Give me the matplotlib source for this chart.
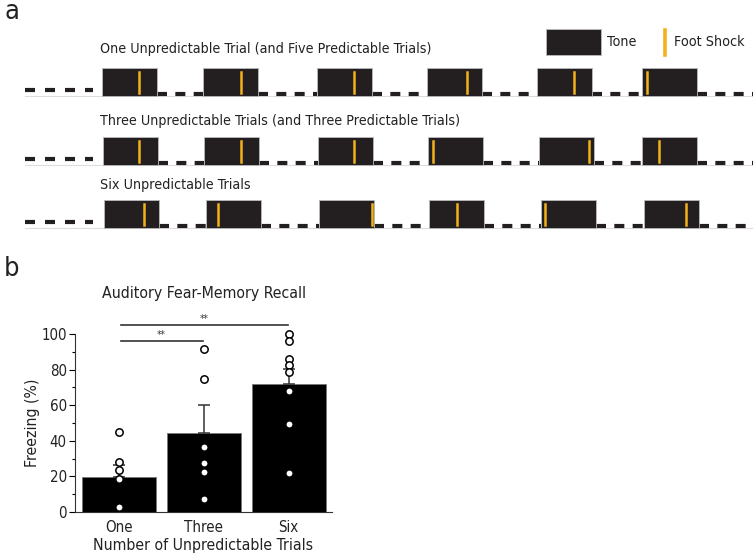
import numpy as np
import matplotlib
matplotlib.use("Agg")
import matplotlib.pyplot as plt
from matplotlib import font_manager as fm
from matplotlib.patches import Rectangle

# pick a condensed face if one is installed (the original uses a condensed sans)
entries = fm.fontManager.ttflist
names = {f.name for f in entries}
if "Liberation Sans Narrow" in names:
    plt.rcParams['font.family'] = ['Liberation Sans Narrow', 'DejaVu Sans']
    k = 1.2
elif any(f.name == "DejaVu Sans" and str(f.stretch) in ("condensed", "semi-condensed")
         for f in entries):
    plt.rcParams['font.family'] = ['DejaVu Sans']
    plt.rcParams['font.stretch'] = 'condensed'
    k = 1.08
else:
    plt.rcParams['font.family'] = ['DejaVu Sans']
    k = 0.96

# ---------- panel a: protocol schematic (timeline units = px) ----------
row_titles = [
    "One Unpredictable Trial (and Five Predictable Trials)",
    "Three Unpredictable Trials (and Three Predictable Trials)",
    "Six Unpredictable Trials",
]
tone_starts = [
    [102, 203, 317, 427, 537, 642],
    [103, 204, 318, 428, 539, 642],
    [104, 206, 319, 429, 541, 644],
]
shock_times = [
    [139, 241, 354, 467, 574, 647],
    [139, 241, 354, 433, 589, 659],
    [144, 218, 372, 457, 545, 686],
]
tone_len = 55

# ---------- panel b: freezing data ----------
groups = ["One", "Three", "Six"]
freeze_mean = [19.7, 44.5, 72.0]
freeze_sem = [6.6, 15.6, 8.5]
freeze_points = [
    [45.2, 28.0, 23.4, 18.5, 2.8],
    [91.6, 74.7, 36.5, 27.3, 22.6, 7.1],
    [100.0, 96.0, 85.8, 82.8, 78.6, 68.0, 49.4, 21.9],
]
sig_pairs = [(0, 2, 105), (0, 1, 96)]

tone_col = "#231f20"
shock_col = "#f2b21b"
txt_col = "#222222"

fig = plt.figure(figsize=(7.55, 5.58), dpi=100)

# schematic axes covers the whole figure, pixel-like units
ax = fig.add_axes([0, 0, 1, 1])
ax.set_xlim(0, 755)
ax.set_ylim(558, 0)
ax.axis("off")

ax.text(4, -1, "a", fontsize=18 * k, va="top", ha="left", color=txt_col)
ax.text(4, 256, "b", fontsize=18 * k, va="top", ha="left", color=txt_col)

row_bottoms = [96, 165, 228]
row_title_y = [49, 121, 185]
box_h = 28
for title, starts, shocks, yb, ty in zip(row_titles, tone_starts, shock_times,
                                         row_bottoms, row_title_y):
    ax.text(100, ty, title, fontsize=9.5 * k, va="center", ha="left", color=txt_col)
    # faint baseline
    ax.plot([25, 752], [yb - 0.5, yb - 0.5], color="#dddddd", lw=0.8, zorder=1)
    # pre-trial dashes
    ax.plot([25, 93], [yb - 6, yb - 6], color=tone_col, lw=3,
            ls=(0, (2.4, 2.4)), dash_capstyle="butt", zorder=2)
    ends = [s + tone_len for s in starts]
    nexts = starts[1:] + [753]
    for e, n in zip(ends, nexts):
        ax.plot([e, n], [yb - 2.5, yb - 2.5], color=tone_col, lw=3,
                ls=(0, (2.4, 2.0)), dash_capstyle="butt", zorder=2)
    for s, sh in zip(starts, shocks):
        ax.add_patch(Rectangle((s, yb - box_h), tone_len, box_h, facecolor=tone_col,
                               edgecolor="#bbbbbb", lw=0.6, zorder=3))
        ax.plot([sh, sh], [yb - box_h + 4, yb - 3], color=shock_col, lw=1.8, zorder=4)

# legend
ax.add_patch(Rectangle((546, 29), 55, 26, facecolor=tone_col, edgecolor="#bbbbbb",
                       lw=0.6, zorder=3))
ax.text(607, 42, "Tone", fontsize=9.5 * k, va="center", ha="left", color=txt_col)
ax.plot([665, 665], [30, 55], color=shock_col, lw=2.6)
ax.text(674, 42, "Foot Shock", fontsize=9.5 * k, va="center", ha="left", color=txt_col)

# ---------- panel b ----------
bx = fig.add_axes([75 / 755, 46 / 558, 257 / 755, 178 / 558])
x = np.arange(len(groups))
bx.bar(x, freeze_mean, width=0.87, color="black", edgecolor="#777777", lw=0.6, zorder=2)
bx.errorbar(x, freeze_mean, yerr=[np.zeros(len(x)), freeze_sem], fmt="none",
            ecolor="#333333", elinewidth=1.1, capsize=4.5, capthick=1.1, zorder=3)
for xi, pts in zip(x, freeze_points):
    bx.plot(np.full(len(pts), xi), pts, "o", ms=5.3, mfc="white", mec="black",
            mew=1.1, zorder=4, clip_on=False)

for a, b, yv in sig_pairs:
    bx.plot([a + 0.02, b - 0.01], [yv, yv], color="#333333", lw=1.2, clip_on=False)
    bx.text((a + b) / 2, yv + 0.8, "**", fontsize=7, ha="center", va="bottom",
            color="#333333")

bx.set_xlim(-0.52, 2.51)
bx.set_ylim(0, 100)
bx.set_yticks([0, 20, 40, 60, 80, 100])
bx.set_yticks([10, 30, 50, 70, 90], minor=True)
bx.set_xticks(x)
bx.set_xticklabels(groups)
bx.tick_params(axis="x", length=0, labelsize=10 * k, pad=6, labelcolor=txt_col)
bx.tick_params(axis="y", which="major", length=4, width=0.8, labelsize=10 * k, pad=2,
               labelcolor=txt_col)
bx.tick_params(axis="y", which="minor", length=2.5, width=0.8)
for sp in ["top", "right"]:
    bx.spines[sp].set_visible(False)
for sp in ["left", "bottom"]:
    bx.spines[sp].set_linewidth(0.8)
    bx.spines[sp].set_color("#333333")
bx.set_ylabel("Freezing (%)", fontsize=10.5 * k, labelpad=1, color=txt_col)
bx.set_xlabel("Number of Unpredictable Trials", fontsize=10.5 * k, labelpad=2,
              color=txt_col)
bx.set_title("Auditory Fear-Memory Recall", fontsize=10.5 * k, pad=26, color=txt_col)

fig.savefig("out.png", dpi=100)
